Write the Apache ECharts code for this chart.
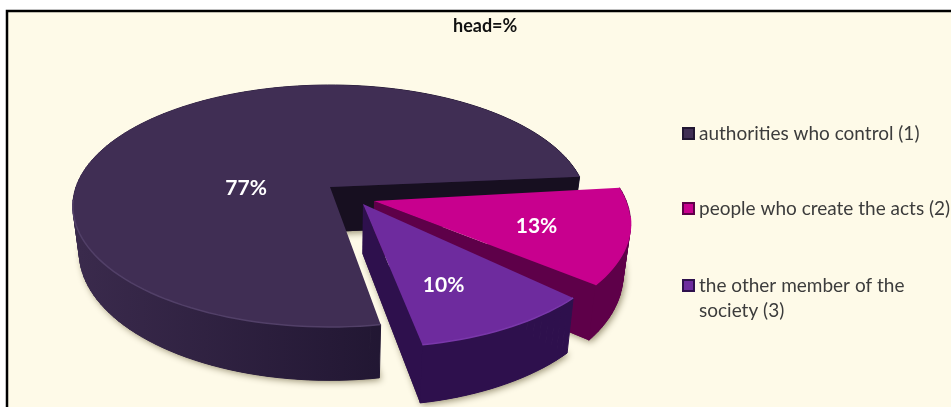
<!DOCTYPE html>
<html>
<head>
<meta charset="utf-8">
<title>head=%</title>
<script src="https://cdn.jsdelivr.net/npm/echarts@6/dist/echarts.min.js"></script>
<style>
  html, body { margin: 0; padding: 0; background: #fff; }
  #chart { width: 951px; height: 407px; }
</style>
</head>
<body>
<div id="chart"></div>
<script>
var categories = ['authorities who control (1)', 'people who create the acts (2)', 'the other member of the society (3)'];
var shares = [77, 13, 10];
var shareLabels = ['77%', '13%', '10%'];
var titleText = 'head=%';

// drawing order is main slice first, the pulled out ones after it
var looks = [
  { top: '#402e54', wallFrom: '#3a2a4c', wallTo: '#211632', inner: '#170f20', lip: '#524068', shift: [0, 0], labelR: 0.33, labelTurn: -39, radius: 1, trim: [1.5, -1], depth: 45 },
  { top: '#c8008e', wallFrom: '#5e0049', wallTo: '#5e0049', inner: '#5e0049', lip: '#c8008e', shift: [0.170, 0.117], labelR: 0.635, labelTurn: -1, radius: 0.975, trim: [-2.5, -3.5], depth: 49 },
  { top: '#6e2b9e', wallFrom: '#2e104d', wallTo: '#2e104d', inner: '#2e104d', lip: '#7a38aa', shift: [0.127, 0.141], labelR: 0.655, labelTurn: 5, radius: 0.98, trim: [1, 1], depth: 48 }
];

var startAngle = -4; // degrees clockwise from the right, where the 13% slice begins
var cx = 330, cy = 187, scaleX = 254, scaleY = 118, tilt = 0.157, bottomNarrow = 0.975;

function place(u, v, drop) {
  var w = 1 - tilt * v;
  return [
    cx + scaleX * u / w * (drop ? bottomNarrow : 1),
    cy + scaleY * v / w + drop / w
  ];
}

function onDisc(look, deg, r) {
  var a = deg * Math.PI / 180;
  return [look.shift[0] + r * Math.cos(a), look.shift[1] + r * Math.sin(a)];
}

function arcPoints(look, from, to, drop) {
  var pts = [];
  var n = Math.ceil(Math.abs(to - from) / 2);
  for (var i = 0; i <= n; i++) {
    var p = onDisc(look, from + (to - from) * i / n, look.radius);
    pts.push(place(p[0], p[1], drop));
  }
  return pts;
}

// angle range of each slice, 13% and 10% run clockwise from startAngle, 77% takes the rest
var ranges = [];
var total = shares[0] + shares[1] + shares[2];
var a1 = startAngle + shares[1] / total * 360;
var a2 = a1 + shares[2] / total * 360;
ranges[1] = [startAngle, a1];
ranges[2] = [a1, a2];
ranges[0] = [a2, startAngle + 360];

function renderSlice(index) {
  return function () {
    var look = looks[index];
    var from = ranges[index][0] + look.trim[0], to = ranges[index][1] + look.trim[1];
    var topArc = arcPoints(look, from, to, 0);
    var lowArc = arcPoints(look, from, to, look.depth);
    var tip = place(look.shift[0], look.shift[1], 0);
    var tipLow = place(look.shift[0], look.shift[1], look.depth);
    var wallFill = new echarts.graphic.LinearGradient(80, 0, 390, 0, [
      { offset: 0, color: look.wallFrom },
      { offset: 1, color: look.wallTo }
    ], true);
    var children = [];
    // bottom face carries the drop shadow
    children.push({
      type: 'polygon',
      shape: { points: [tipLow].concat(lowArc) },
      style: { fill: wallFill, shadowBlur: 7, shadowColor: 'rgba(95,85,50,0.65)', shadowOffsetY: 2, shadowOffsetX: 2 }
    });
    // outer wall, one strip per arc step so the sides stay filled
    for (var k = 0; k < topArc.length - 1; k++) {
      children.push({
        type: 'polygon',
        shape: { points: [topArc[k], topArc[k + 1], lowArc[k + 1], lowArc[k]] },
        style: { fill: wallFill, stroke: wallFill, lineWidth: 1 }
      });
    }
    // cut face that looks at the viewer, the other one sits behind the top
    var last = topArc[topArc.length - 1], lastLow = lowArc[lowArc.length - 1];
    children.push({
      type: 'polygon',
      shape: { points: [tip, last, lastLow, tipLow] },
      style: { fill: look.inner }
    });
    // top face
    children.push({
      type: 'polygon',
      shape: { points: [tip].concat(topArc) },
      style: { fill: look.top }
    });
    // soft lip along the front edge
    var lip = [];
    for (var i = 0; i < topArc.length; i++) {
      var deg = from + (to - from) * i / (topArc.length - 1);
      if (Math.sin(deg * Math.PI / 180) > 0.1) lip.push(topArc[i]);
    }
    if (lip.length > 1) {
      children.push({
        type: 'polyline',
        shape: { points: lip },
        style: { stroke: look.lip, lineWidth: 1.5, fill: null }
      });
    }
    // share label
    var mid = (ranges[index][0] + ranges[index][1]) / 2 + look.labelTurn;
    var at = onDisc(look, mid, look.labelR);
    var pos = place(at[0], at[1], 0);
    children.push({
      type: 'text',
      style: {
        text: shareLabels[index],
        x: pos[0],
        y: pos[1],
        fill: '#ffffff',
        align: 'center',
        verticalAlign: 'middle',
        font: 'bold 21px Lato, "Open Sans", sans-serif'
      }
    });
    return { type: 'group', children: children };
  };
}

var legendFont = { fontFamily: 'Lato', fontSize: 19, color: '#3c3c3c', lineHeight: 25 };

var option = {
  animation: false,
  backgroundColor: '#ffffff',
  title: {
    text: titleText,
    left: 453,
    top: 17,
    padding: 0,
    textStyle: { fontFamily: 'Lato', fontSize: 18, fontWeight: 'bold', color: '#111111' }
  },
  graphic: [{
    type: 'rect',
    z: -10,
    silent: true,
    shape: { x: 7, y: 11, width: 970, height: 430 },
    style: { fill: '#fefae8', stroke: '#000000', lineWidth: 2.5 }
  }],
  legend: [
    { data: [categories[0]], left: 682, top: 121, padding: 0, itemWidth: 11, itemHeight: 11, icon: 'rect', selectedMode: false, textStyle: legendFont },
    { data: [categories[1]], left: 682, top: 196, padding: 0, itemWidth: 11, itemHeight: 11, icon: 'rect', selectedMode: false, textStyle: legendFont },
    {
      data: [categories[2]], left: 682, top: 248, padding: 0, itemWidth: 11, itemHeight: 11, icon: 'rect', selectedMode: false, textStyle: legendFont,
      formatter: function () { return ' \nthe other member of the\nsociety (3)'; }
    }
  ],
  series: [0, 1, 2].map(function (i) {
    return {
      type: 'custom',
      name: categories[i],
      coordinateSystem: 'none',
      silent: true,
      itemStyle: { color: looks[i].top, borderColor: looks[i].wallTo, borderWidth: 1 },
      renderItem: renderSlice(i),
      data: [[shares[i]]]
    };
  })
};

var myChart = echarts.init(document.getElementById('chart'), null, { renderer: 'canvas' });
myChart.setOption(option);
</script>
</body>
</html>
